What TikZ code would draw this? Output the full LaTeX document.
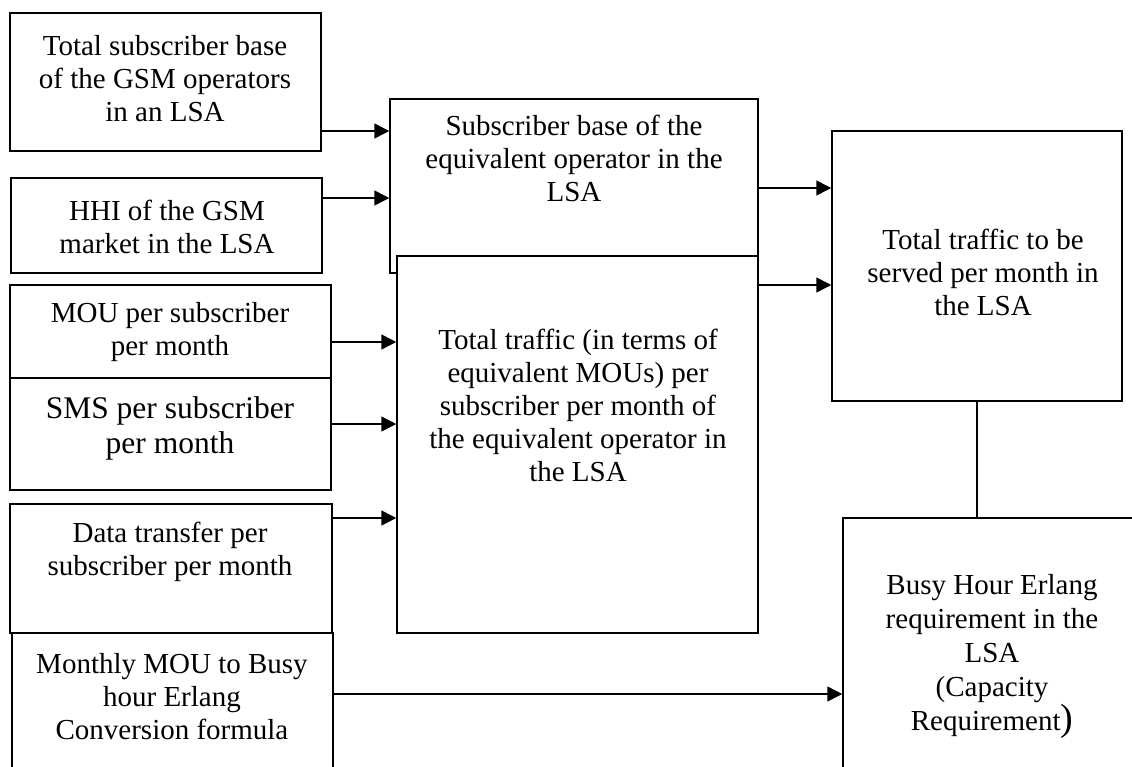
\documentclass[tikz,border=0pt]{standalone}
\usepackage{fontspec}
\setmainfont{Liberation Serif}
\usetikzlibrary{arrows.meta}
\tikzset{
  box/.style={draw=black, line width=1.5pt, fill=white, inner sep=0pt, rectangle},
  lbl/.style={align=center, inner sep=0pt, font=\fontsize{29}{33}\selectfont},
  arr/.style={line width=1.5pt, -{Triangle[length=15pt,width=15pt]}},
  ln/.style={line width=1.5pt}
}
\begin{document}
\begin{tikzpicture}[x=1pt,y=-1pt]
\useasboundingbox (0,0) rectangle (1132,766);
\clip (0,0) rectangle (1132,766);
% boxes
\node[box, minimum width=311pt, minimum height=138pt] (A) at (165.5,82) {};
\node[box, minimum width=311pt, minimum height=95pt] (B) at (166.5,225.5) {};
\node[box, minimum width=368pt, minimum height=174pt] (S) at (574,186) {};
\node[box, minimum width=290pt, minimum height=270pt] (T) at (977,266) {};
\node[box, minimum width=321pt, minimum height=93pt] (C) at (170.5,331.5) {};
\node[box, minimum width=321pt, minimum height=112pt] (D) at (170.5,434) {};
\node[box, minimum width=361pt, minimum height=377pt] (M) at (577.5,444.5) {};
\node[box, minimum width=322pt, minimum height=129pt] (G) at (171,568.5) {};
\node[box, minimum width=321pt, minimum height=167pt] (F) at (172.5,716.5) {};
\node[box, minimum width=317pt, minimum height=282pt] (E) at (1001.5,659) {};
% labels
\node[lbl] (At) at (165,79) {Total subscriber base\\of the GSM operators\\in an LSA};
\node[lbl] (Bt) at (167,227) {HHI of the GSM\\market in the LSA};
\node[lbl] (St) at (574,158) {Subscriber base of the\\equivalent operator in the\\LSA};
\node[lbl] (Tt) at (983,272) {Total traffic to be\\served per month in\\the LSA};
\node[lbl] (Ct) at (170,332) {MOU per subscriber\\per month};
\node[lbl, font=\fontsize{31.5}{35}\selectfont] (Dt) at (170,428) {SMS per subscriber\\per month};
\node[lbl] (Mt) at (578,405) {Total traffic (in terms of\\equivalent MOUs) per\\subscriber per month of\\the equivalent operator in\\the LSA};
\node[lbl] (Gt) at (170,552) {Data transfer per\\subscriber per month};
\node[lbl] (Ft) at (172,697) {Monthly MOU to Busy\\hour Erlang\\Conversion formula};
\node[lbl, font=\fontsize{29}{34}\selectfont] (Et) at (992,656) {Busy Hour Erlang\\requirement in the\\LSA\\(Capacity\\Requirement{\fontsize{38}{34}\selectfont)}};
% connectors
\draw[arr] (A.east |- 0,131) -- (S.west |- 0,131);
\draw[arr] (B.east |- 0,198) -- (S.west |- 0,198);
\draw[arr] (S.east |- 0,188) -- (T.west |- 0,188);
\draw[arr] (M.east |- 0,285) -- (T.west |- 0,285);
\draw[arr] (C.east |- 0,342) -- (M.west |- 0,342);
\draw[arr] (D.east |- 0,424) -- (M.west |- 0,424);
\draw[arr] (G.east |- 0,518) -- (M.west |- 0,518);
\draw[arr] (F.east |- 0,694) -- (E.west |- 0,694);
\draw[ln] (T.south) -- (T.south |- E.north);
\end{tikzpicture}
\end{document}
